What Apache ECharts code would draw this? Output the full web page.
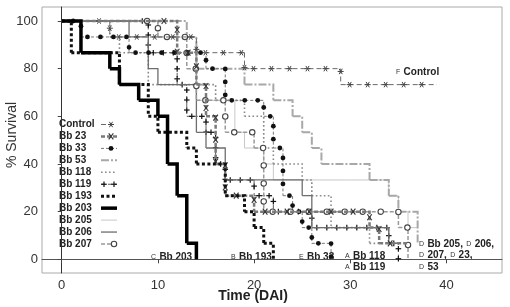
<!DOCTYPE html>
<html>
<head>
<meta charset="utf-8">
<script src="https://cdn.jsdelivr.net/npm/echarts@6/dist/echarts.min.js"></script>
<style>
  html, body { margin: 0; padding: 0; background: #fff; }
  #chart { width: 510px; height: 307px; }
</style>
</head>
<body>
<div id="chart"></div>
<script>
// survival steps: [day, % survival after that day]
const control = [[0, 100], [5, 93.3], [14, 86.7], [19, 80], [29, 73.3], [39, 73.3]]
const bb23 = [[0, 100], [12, 86.7], [14, 73.3], [15, 60], [16, 40], [17, 26.7], [20, 20], [32, 13.3], [33, 6.7], [36, 6.7]]
const bb33 = [[0, 100], [2, 93.3], [7, 86.7], [15, 80], [17, 66.7], [21, 60], [22, 46.7], [23, 26.7], [24, 20], [25, 13.3], [26, 6.7], [28, 0]]
const bb53 = [[0, 100], [13, 93.3], [14, 80], [19, 73.3], [22, 66.7], [24, 60], [25, 53.3], [26, 46.7], [27, 40], [32, 33.3], [34, 26.7], [35, 20], [37, 6.7]]
const bb118 = [[0, 100], [5, 93.3], [6, 86.7], [9, 73.3], [16, 66.7], [19, 60], [21, 46.7], [22, 40], [25, 33.3], [26, 26.7], [28, 13.3], [32, 6.7], [33, 6.7]]
const bb119 = [[0, 100], [9, 86.7], [12, 73.3], [13, 60], [15, 53.3], [16, 40], [17, 33.3], [20, 26.7], [22, 20], [26, 13.3], [34, 6.7], [35, 0]]
const bb193 = [[0, 100], [1, 86.7], [6, 73.3], [9, 60], [10, 53.3], [13, 46.7], [14, 40], [17, 26.7], [19, 20], [20, 13.3], [21, 6.7], [22, 0]]
const bb203 = [[0, 100], [2, 86.7], [5, 80], [6, 73.3], [8, 66.7], [10, 60], [11, 40], [12, 26.7], [13, 6.7], [14, 0]]
const bb205 = [[0, 100], [10, 93.3], [14, 66.7], [18, 53.3], [19, 46.7], [21, 40], [22, 33.3], [30, 33.3], [34, 26.7], [35, 20], [36, 13.3], [37, 13.3]]
const bb206 = [[0, 100], [7, 93.3], [9, 80], [10, 73.3], [14, 53.3], [15, 46.7], [17, 33.3], [25, 26.7], [26, 13.3], [34, 6.7], [35, 6.7]]
const bb207 = [[0, 100], [10, 93.3], [13, 80], [14, 66.7], [17, 53.3], [20, 46.7], [21, 20], [35, 13.3], [36, 0]]

const names = ['Control', 'Bb 23', 'Bb 33', 'Bb 53', 'Bb 118', 'Bb 119', 'Bb 193', 'Bb 203', 'Bb 205', 'Bb 206', 'Bb 207']
const curves = [control, bb23, bb33, bb53, bb118, bb119, bb193, bb203, bb205, bb206, bb207]
const xTicks = [0, 10, 20, 30, 40]
const yTicks = [0, 20, 40, 60, 80, 100]

const F = '"Liberation Sans", Arial, sans-serif'

const styles = {
  'Control': {color: '#6a6a6a', width: 1, dash: [5, 3], glyph: 'star', gap: 18},
  'Bb 23': {color: '#7a7a7a', width: 2.5, dash: [4, 2], glyph: 'x', gap: 22},
  'Bb 33': {color: '#777', width: 1, dash: [3, 2], glyph: 'dot', gap: 13},
  'Bb 53': {color: '#a8a8a8', width: 2, dash: [8, 2, 2, 2]},
  'Bb 118': {color: '#8a8a8a', width: 1.6, dash: [1.6, 2.4]},
  'Bb 119': {color: '#333', width: 0.8, dash: [4, 3], glyph: 'plus', gap: 10},
  'Bb 193': {color: '#111', width: 3, dash: [3, 2.5]},
  'Bb 203': {color: '#000', width: 3.5, dash: null},
  'Bb 205': {color: '#c8c8c8', width: 1, dash: null},
  'Bb 206': {color: '#6e6e6e', width: 1.3, dash: null},
  'Bb 207': {color: '#9a9a9a', width: 1.5, dash: [4, 2], glyph: 'ring', gap: 18}
}
// drawing order (light lines underneath, heavy black ones on top)
const drawOrder = ['Bb 205', 'Bb 53', 'Bb 118', 'Bb 119', 'Bb 206', 'Bb 207', 'Control', 'Bb 33', 'Bb 23', 'Bb 193', 'Bb 203']

function seg(x1, y1, x2, y2, color, w) {
  return {type: 'line', shape: {x1, y1, x2, y2}, style: {stroke: color, lineWidth: w}}
}

function glyph(kind, x, y) {
  if (kind === 'dot') return {type: 'circle', shape: {cx: x, cy: y, r: 2.4}, style: {fill: '#111'}}
  if (kind === 'ring') return {type: 'circle', shape: {cx: x, cy: y, r: 2.7}, style: {fill: '#fff', stroke: '#444', lineWidth: 1.1}}
  let lines = []
  if (kind === 'star') {
    lines = [seg(x - 3, y, x + 3, y, '#444', 1), seg(x - 1.6, y - 2.7, x + 1.6, y + 2.7, '#444', 1), seg(x + 1.6, y - 2.7, x - 1.6, y + 2.7, '#444', 1)]
  } else if (kind === 'x') {
    lines = [seg(x - 2.3, y - 3, x + 2.3, y + 3, '#333', 1.1), seg(x + 2.3, y - 3, x - 2.3, y + 3, '#333', 1.1)]
  } else if (kind === 'plus') {
    lines = [seg(x - 2.8, y, x + 2.8, y, '#111', 1.2), seg(x, y - 2.8, x, y + 2.8, '#111', 1.2)]
  }
  return {type: 'group', children: lines}
}

function pieces(pts) {
  return pts.slice(1).map((p, i) => [pts[i][0], pts[i][1], p[0], p[1]])
}

function renderStep(st) {
  return function (params, api) {
    const a = api.coord([api.value(0), api.value(1)])
    const b = api.coord([api.value(2), api.value(1)])
    const c = api.coord([api.value(2), api.value(3)])
    const kids = [{
      type: 'polyline',
      shape: {points: [a, b, c]},
      style: {stroke: st.color, lineWidth: st.width, lineDash: st.dash || null, fill: 'none'}
    }]
    if (st.glyph) {
      const l1 = b[0] - a[0]
      const l2 = Math.abs(c[1] - b[1])
      const dir = c[1] > b[1] ? 1 : -1
      // the shared 100% line is crowded, only mark it just before the drop
      let s0 = st.gap / 2
      if (params.dataIndex === 0) s0 = Math.max(s0, l1 - st.gap * 0.6)
      for (let s = s0; s < l1 + l2; s += st.gap) {
        const p = s <= l1 ? [a[0] + s, a[1]] : [b[0], b[1] + dir * (s - l1)]
        kids.push(glyph(st.glyph, p[0], p[1]))
      }
    }
    return {type: 'group', children: kids}
  }
}

// legend drawn inside the plot, label then line sample
const legendEls = []
names.forEach((n, i) => {
  const y = 124.5 + i * 11.95
  const st = styles[n]
  legendEls.push({type: 'text', x: 59, y, style: {text: n, font: 'bold 10px ' + F, fill: '#222', verticalAlign: 'middle'}})
  legendEls.push({type: 'polyline', shape: {points: [[101, y], [117, y]]}, style: {stroke: st.color, lineWidth: st.width, lineDash: st.dash || null, fill: 'none'}})
  if (st.glyph === 'plus') {
    legendEls.push(glyph('plus', 104, y), glyph('plus', 114, y))
  } else if (st.glyph === 'ring') {
    legendEls.push(glyph('ring', 114, y))
  } else if (st.glyph) {
    legendEls.push(glyph(st.glyph, 111, y))
  }
})

const rich = {s: {fontSize: 7, fontFamily: F, fill: '#333'}, b: {fontSize: 10, fontWeight: 'bold', fontFamily: F, fill: '#222'}}
const endLabels = [
  ['{s|F} {b|Control}', 396, 72],
  ['{s|C} {b|Bb 203}', 151, 257],
  ['{s|B} {b|Bb 193}', 231, 257],
  ['{s|E} {b|Bb 33}', 299, 257],
  ['{s|A} {b|Bb 118}', 345, 256],
  ['{s|A} {b|Bb 119}', 345, 267.5],
  ['{s|D} {b|Bb 205,} {s|D} {b|206,}', 419, 244],
  ['{s|D} {b|207,} {s|D} {b|23,}', 419, 255.5],
  ['{s|D} {b|53}', 419, 267]
].map(([t, x, y]) => ({type: 'text', x, y, style: {text: t, rich, verticalAlign: 'middle'}}))

const chart = echarts.init(document.getElementById('chart'))
chart.setOption({
  animation: false,
  grid: {left: 42, right: 8, top: 7, bottom: 34, show: true, borderColor: '#aaa', borderWidth: 1},
  xAxis: {
    type: 'value', min: -2.05, max: 45.77,
    axisLine: {lineStyle: {color: '#555', width: 1}},
    axisTick: {customValues: xTicks, length: 4, lineStyle: {color: '#444'}},
    axisLabel: {customValues: xTicks, fontSize: 13, color: '#333', fontFamily: F, margin: 6},
    splitLine: {show: false}
  },
  yAxis: {
    type: 'value', min: -5.74, max: 105.87,
    axisLine: {show: true, lineStyle: {color: '#333', width: 1}},
    axisTick: {show: true, customValues: yTicks, length: 4, lineStyle: {color: '#444'}},
    axisLabel: {customValues: yTicks, fontSize: 13, color: '#333', fontFamily: F, margin: 4},
    splitLine: {show: false}
  },
  graphic: [
    {type: 'text', x: 12, y: 135, rotation: Math.PI / 2, style: {text: '% Survival', font: '14px ' + F, fill: '#333', align: 'center', verticalAlign: 'middle'}},
    {type: 'text', x: 253, y: 296, style: {text: 'Time (DAI)', font: 'bold 14px ' + F, fill: '#222', align: 'center', verticalAlign: 'middle'}},
    ...legendEls,
    ...endLabels
  ],
  series: drawOrder.map(n => ({
    name: n,
    type: 'custom',
    silent: true,
    encode: {x: [0, 2], y: [1, 3]},
    renderItem: renderStep(styles[n]),
    data: pieces(curves[names.indexOf(n)])
  }))
})
</script>
</body>
</html>
